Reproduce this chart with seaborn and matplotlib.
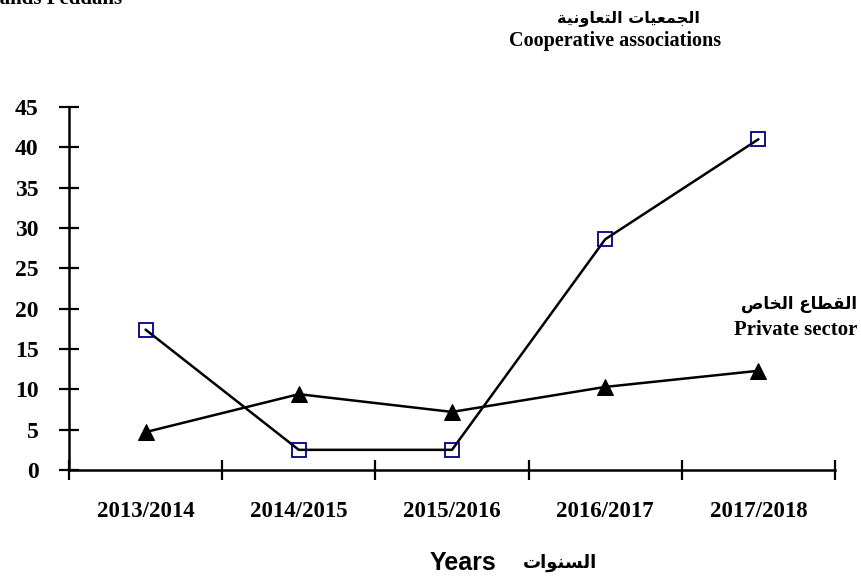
import matplotlib
matplotlib.use("Agg")
import matplotlib.pyplot as plt
import seaborn as sns
import pandas as pd

# ---- data ----
years = ["2013/2014", "2014/2015", "2015/2016", "2016/2017", "2017/2018"]
cooperative = [17.4, 2.5, 2.5, 28.6, 41.0]
private = [4.7, 9.4, 7.2, 10.3, 12.3]
y_ticks = [0, 5, 10, 15, 20, 25, 30, 35, 40, 45]


def ar(logical_forms):
    # Arabic text given as presentation forms in logical order; reverse for LTR drawing
    return logical_forms[::-1]


# الجمعيات التعاونية
coop_ar = ar("\uFE8D\uFEDF\uFEA0\uFEE4\uFECC\uFEF4\uFE8E\uFE95 "
             "\uFE8D\uFEDF\uFE98\uFECC\uFE8E\uFEED\uFEE7\uFEF4\uFE94")
# القطاع الخاص
priv_ar = ar("\uFE8D\uFEDF\uFED8\uFEC4\uFE8E\uFEC9 \uFE8D\uFEDF\uFEA8\uFE8E\uFEB9")
# السنوات
years_ar = ar("\uFE8D\uFEDF\uFEB4\uFEE8\uFEEE\uFE8D\uFE95")

df_c = pd.DataFrame({"year": years, "value": cooperative})
df_p = pd.DataFrame({"year": years, "value": private})

sns.set_theme(style="white")
plt.rcParams["font.family"] = ["Liberation Serif", "DejaVu Sans"]
plt.rcParams["text.color"] = "black"
plt.rcParams["xtick.color"] = "black"
plt.rcParams["ytick.color"] = "black"

W, H = 861, 580
fig = plt.figure(figsize=(W / 100, H / 100), dpi=100)
ax = fig.add_axes([69 / W, 1 - 470 / H, (835 - 69) / W, (470 - 107) / H])

sns.lineplot(data=df_c, x="year", y="value", ax=ax, color="black", lw=1.8,
             marker="s", markersize=10, markerfacecolor="none",
             markeredgecolor="#000080", markeredgewidth=1.3, sort=False)
sns.lineplot(data=df_p, x="year", y="value", ax=ax, color="black", lw=1.8,
             marker="^", markersize=11, markerfacecolor="black",
             markeredgecolor="black", sort=False)

n = len(years)
ax.set_xlim(-0.5, n - 0.5)
ax.set_ylim(0, 45)
ax.set_xticks([i - 0.5 for i in range(n + 1)])
ax.set_xticklabels([])
ax.set_xticks(list(range(n)), minor=True)
ax.set_xticklabels(years, minor=True, fontsize=16.5, fontweight="bold",
                   family="Liberation Serif", color="black")
ax.set_yticks(y_ticks)
ax.set_yticklabels([str(v) for v in y_ticks], fontsize=17, fontweight="bold",
                   family="Liberation Serif", color="black")
ax.tick_params(axis="both", which="major", direction="inout", length=14,
               width=1.6, color="black", left=True, bottom=True)
ax.tick_params(axis="y", which="major", pad=15)
ax.tick_params(axis="x", which="minor", length=0, pad=22, bottom=True)
ax.set_xlabel("")
ax.set_ylabel("")

for s in ["top", "right"]:
    ax.spines[s].set_visible(False)
for s in ["left", "bottom"]:
    ax.spines[s].set_color("black")
    ax.spines[s].set_linewidth(1.8)

def ftext(x, y, s, **kw):
    fig.text(x / W, 1 - y / H, s, color="black", **kw)

ftext(628, 18, coop_ar, ha="center", va="center", fontsize=11.5,
      fontweight="bold", family=["DejaVu Sans"])
ftext(615, 41, "Cooperative associations", ha="center", va="center",
      fontsize=14.5, fontweight="bold", family="Liberation Serif")
ftext(799, 304, priv_ar, ha="center", va="center", fontsize=12,
      fontweight="bold", family=["DejaVu Sans"])
ftext(796, 330, "Private sector", ha="center", va="center", fontsize=15,
      fontweight="bold", family="Liberation Serif")
ftext(463, 563, "Years", ha="center", va="center", fontsize=18,
      fontweight="bold", family="Liberation Sans")
ftext(560, 563, years_ar, ha="center", va="center", fontsize=13,
      fontweight="bold", family=["DejaVu Sans"])
ftext(122, 4, "Thousands Feddans", ha="right", va="baseline", fontsize=15,
      fontweight="bold", family="Liberation Serif")

fig.savefig("out.png", dpi=100, facecolor="white")
